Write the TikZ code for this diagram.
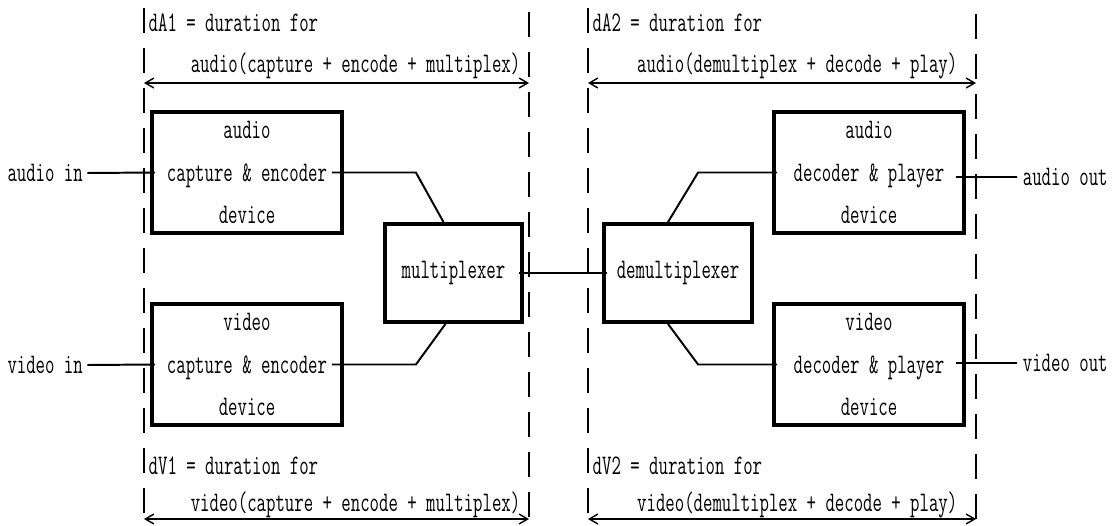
\documentclass[tikz,border=0pt]{standalone}
\usepackage{fontspec}
\usepackage{graphicx}
\usetikzlibrary{arrows.meta,calc}
% tall narrow typewriter lettering
\newcommand{\tl}[1]{\scalebox{1}[1.55]{#1}}
\newcommand{\diafont}{\ttfamily\addfontfeatures{FakeBold=1.2}}
\tikzset{
  devbox/.style={draw,line width=2.7pt,minimum width=4.75cm,minimum height=3.025cm,
    align=center,inner sep=0pt,font=\diafont\fontsize{13}{30}\selectfont},
  muxbox/.style={draw,line width=2.7pt,minimum height=2.45cm,inner sep=0pt,
    font=\diafont\fontsize{13}{14}\selectfont},
  lbl/.style={inner sep=1pt,font=\diafont\fontsize{13}{14}\selectfont},
  wire/.style={line width=1.4pt},
  guide/.style={line width=1.3pt,dash pattern=on 0.625cm off 0.375cm},
  span/.style={line width=1pt,{Straight Barb[length=6pt,width=7pt]}-{Straight Barb[length=6pt,width=7pt]}},
}
\begin{document}
\begin{tikzpicture}[x=0.025cm,y=-0.025cm]
\useasboundingbox (0,0) rectangle (1120,526);

% time windows
\foreach \gx/\gy in {144/8,529/12,588/8,976/14}
  \draw[guide] (\gx,\gy) -- (\gx,526);

\coordinate (a1l) at (144,83);  \coordinate (a1r) at (529,83);
\coordinate (a2l) at (588,83);  \coordinate (a2r) at (976,83);
\coordinate (v1l) at (144,519); \coordinate (v1r) at (529,519);
\coordinate (v2l) at (588,519); \coordinate (v2r) at (976,519);
\draw[span] (a1l) -- (a1r);
\draw[span] (a2l) -- (a2r);
\draw[span] (v1l) -- (v1r);
\draw[span] (v2l) -- (v2r);

\node[lbl,anchor=west] (dA1) at (147,23) {\tl{dA1 = duration for}};
\node[lbl,anchor=east] (dA1b) at (522,66) {\tl{audio(capture + encode + multiplex)}};
\node[lbl,anchor=west] (dA2) at (591,23) {\tl{dA2 = duration for}};
\node[lbl,anchor=east] (dA2b) at (959,66) {\tl{audio(demultiplex + decode + play)}};
\node[lbl,anchor=west] (dV1) at (147,466) {\tl{dV1 = duration for}};
\node[lbl,anchor=east] (dV1b) at (522,505) {\tl{video(capture + encode + multiplex)}};
\node[lbl,anchor=west] (dV2) at (591,466) {\tl{dV2 = duration for}};
\node[lbl,anchor=east] (dV2b) at (959,505) {\tl{video(demultiplex + decode + play)}};

% devices
\node[devbox] (acap) at (247,172.5) {\tl{audio}\\\tl{capture \& encoder}\\\tl{device}};
\node[devbox] (vcap) at (247,364.5) {\tl{video}\\\tl{capture \& encoder}\\\tl{device}};
\node[muxbox,minimum width=3.425cm] (mux) at (453.5,273) {\tl{multiplexer}};
\node[muxbox,minimum width=3.7cm] (demux) at (678,273) {\tl{demultiplexer}};
\node[devbox] (adec) at (869,172.5) {\tl{audio}\\\tl{decoder \& player}\\\tl{device}};
\node[devbox] (vdec) at (869,364.5) {\tl{video}\\\tl{decoder \& player}\\\tl{device}};

\node[lbl,anchor=west,inner sep=3pt] (ain) at (3,173) {\tl{audio in}};
\node[lbl,anchor=west,inner sep=3pt] (vin) at (3,365) {\tl{video in}};
\node[lbl,anchor=west,inner sep=4pt] (aout) at (1017,177) {\tl{audio out}};
\node[lbl,anchor=west,inner sep=4pt] (vout) at (1017,363) {\tl{video out}};

% signal path
\draw[wire] (ain.east) -- ([xshift=0.125cm]acap.west);
\draw[wire] (vin.east) -- ([xshift=0.125cm]vcap.west);
\draw[wire] ([xshift=-0.3cm]acap.east) -- ($(acap.east)+(72,0)$) -- ([xshift=-0.25cm]mux.north);
\draw[wire] ([xshift=-0.3cm]vcap.east) -- ($(vcap.east)+(72,0)$) -- ([xshift=-0.2cm]mux.south);
\draw[wire] ([xshift=-0.125cm]mux.east) -- ([xshift=0.125cm]demux.west);
\draw[wire] ([xshift=-0.25cm]demux.north) -- ($(adec.west)+(-74,0)$) -- ([xshift=0.125cm]adec.west);
\draw[wire] ([xshift=-0.25cm]demux.south) -- ($(vdec.west)+(-74,0)$) -- ([xshift=0.125cm]vdec.west);
\draw[wire] ([shift={(-10,4.5)}]adec.east) -- (aout.west);
\draw[wire] ([shift={(-10,-1.5)}]vdec.east) -- (vout.west);
\end{tikzpicture}
\end{document}
